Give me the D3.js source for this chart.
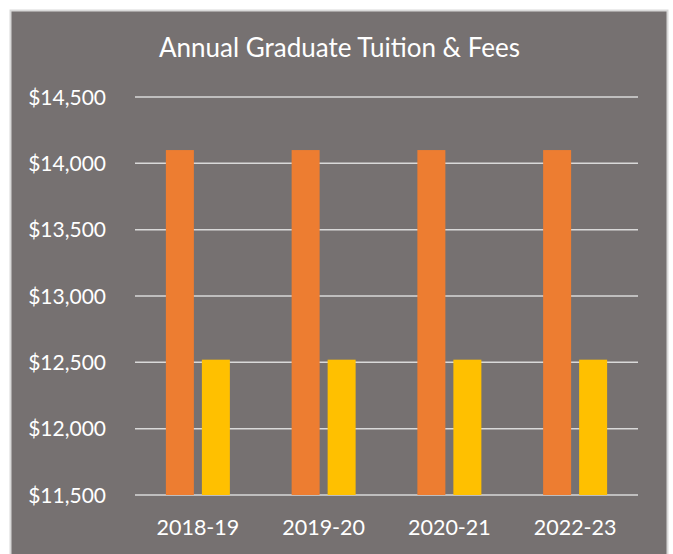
<!DOCTYPE html>
<html>
<head>
<meta charset="utf-8">
<script src="https://cdn.jsdelivr.net/npm/d3@7"></script>
<style>
  html, body { margin: 0; padding: 0; background: #ffffff; }
  svg { display: block; }
  text { font-family: Lato, "Open Sans", sans-serif; fill: #ffffff; }
</style>
</head>
<body>
<svg id="chart" width="673" height="554"></svg>
<script>
// Academic years shown on the x axis
const years = ["2018-19", "2019-20", "2020-21", "2022-23"];
// Two tuition series per year
const seriesA = [14100, 14100, 14100, 14100];
const seriesB = [12520, 12520, 12520, 12520];
const seriesColors = ["#ED7D31", "#FFC000"];
// Y-axis ticks
const yTicks = [11500, 12000, 12500, 13000, 13500, 14000, 14500];
const title = "Annual Graduate Tuition & Fees";

const svg = d3.select("#chart");

// Chart panel
svg.append("rect")
  .attr("x", 10.5).attr("y", 10.5)
  .attr("width", 657).attr("height", 550)
  .attr("fill", "#767171")
  .attr("stroke", "#D9D9D9").attr("stroke-width", 2);

const plot = { left: 135, right: 638, top: 97, bottom: 495 };

const x = d3.scaleBand().domain(years).range([plot.left, plot.right]);
const y = d3.scaleLinear().domain([11500, 14500]).range([plot.bottom, plot.top]);

// Gridlines
svg.append("g").selectAll("line").data(yTicks).join("line")
  .attr("x1", plot.left).attr("x2", plot.right)
  .attr("y1", d => y(d)).attr("y2", d => y(d))
  .attr("stroke", "#D9D9D9").attr("stroke-width", 1.5);

// Y-axis labels
const fmt = d3.format("$,");
svg.append("g").selectAll("text").data(yTicks).join("text")
  .attr("x", 106).attr("y", d => y(d) + 7.5)
  .attr("text-anchor", "end")
  .attr("font-size", 21)
  .text(d => fmt(d));

// Bars: two side-by-side bars centred in each year band
const barW = 28, gap = 8;
const rows = years.map((yr, i) => ({ yr, vals: [seriesA[i], seriesB[i]] }));

const groups = svg.append("g").selectAll("g").data(rows).join("g")
  .attr("transform", d => `translate(${x(d.yr) + x.bandwidth() / 2 - (barW * 2 + gap) / 2},0)`);

groups.selectAll("rect").data(d => d.vals).join("rect")
  .attr("x", (d, j) => j * (barW + gap))
  .attr("width", barW)
  .attr("y", d => y(d))
  .attr("height", d => y(11500) - y(d))
  .attr("fill", (d, j) => seriesColors[j]);

// X-axis labels
svg.append("g").selectAll("text").data(years).join("text")
  .attr("x", d => x(d) + x.bandwidth() / 2)
  .attr("y", 535)
  .attr("text-anchor", "middle")
  .attr("font-size", 21.5)
  .text(d => d);

// Title
svg.append("text")
  .attr("x", 339.5).attr("y", 57)
  .attr("text-anchor", "middle")
  .attr("font-size", 26)
  .text(title);
</script>
</body>
</html>
